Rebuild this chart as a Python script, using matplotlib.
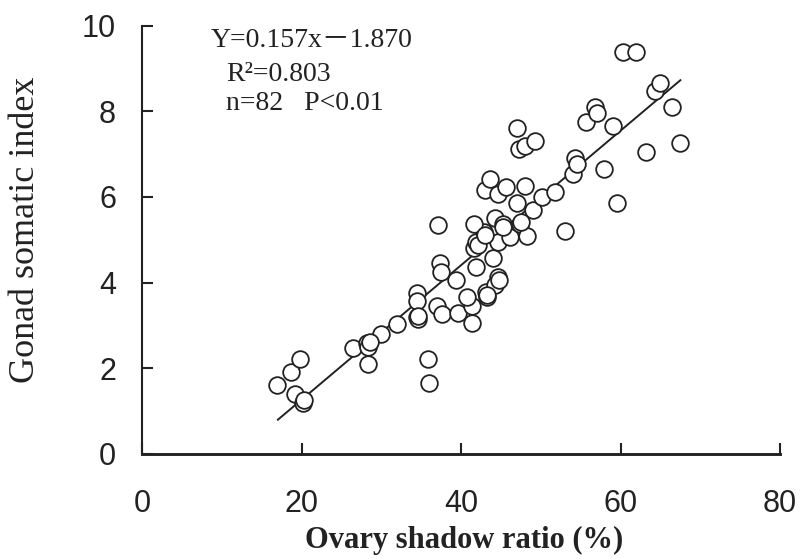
import matplotlib.pyplot as plt
import numpy as np

# Ovary shadow ratio (%) vs gonad somatic index
ratio = [16.9, 18.7, 19.8, 19.1, 20.1, 26.4, 28.2, 28.3, 28.3, 29.9,
         32.0, 34.5, 34.5, 34.5, 34.6, 35.8, 36.0, 37.0, 37.6, 39.6,
         41.4, 41.4, 43.2, 43.1, 40.7, 39.3, 37.3, 37.5, 37.1, 41.9,
         44.0, 44.6, 44.2, 41.6, 41.9, 42.8, 41.6, 44.2, 45.2, 44.6,
         46.1, 47.4, 48.2, 47.0, 43.0, 43.6, 44.6, 45.6, 48.0, 49.0,
         50.2, 51.8, 53.0, 54.0, 54.3, 54.5, 47.0, 47.2, 48.0, 49.2,
         55.6, 56.8, 57.1, 59.0, 57.9, 59.6, 60.3, 61.9, 64.3, 64.9,
         66.4, 67.4, 63.2, 42.1, 43.0, 45.3, 34.6, 43.2, 47.5, 20.3,
         28.5, 44.8]
gsi = [1.61, 1.92, 2.21, 1.39, 1.20, 2.48, 2.58, 2.50, 2.10, 2.80,
       3.04, 3.75, 3.57, 3.20, 3.14, 2.21, 1.65, 3.45, 3.26, 3.28,
       3.05, 3.46, 3.67, 3.79, 3.67, 4.06, 4.45, 4.25, 5.34, 4.37,
       4.57, 4.14, 3.94, 4.80, 4.95, 5.19, 5.38, 5.50, 5.38, 4.95,
       5.07, 5.38, 5.09, 5.86, 6.16, 6.43, 6.08, 6.24, 6.25, 5.69,
       6.00, 6.12, 5.20, 6.53, 6.92, 6.78, 7.62, 7.12, 7.18, 7.30,
       7.75, 8.09, 7.97, 7.65, 6.66, 5.86, 9.39, 9.39, 8.48, 8.67,
       8.10, 7.25, 7.04, 4.88, 5.12, 5.30, 3.22, 3.72, 5.42, 1.25,
       2.62, 4.05]

slope, intercept = 0.157, -1.870
fit_x = np.array([17.0, 67.5])

fig = plt.figure(figsize=(8, 5.59), dpi=100)
ax = fig.add_axes([0.178, 0.188, 0.797, 0.766])

ax.plot(fit_x, slope * fit_x + intercept, color='#222222', lw=1.4, zorder=1)
ax.plot(ratio, gsi, 'o', ms=12, mfc='white', mec='#222222', mew=1.3, zorder=2)

ax.set_xlim(0, 80)
ax.set_ylim(0, 10)
ax.set_xticks([0, 20, 40, 60, 80])
ax.set_yticks([0, 2, 4, 6, 8, 10])

for s in ['top', 'right']:
    ax.spines[s].set_visible(False)
ax.spines['bottom'].set_linewidth(2.1)
ax.spines['left'].set_linewidth(1.5)
ax.spines['bottom'].set_color('#222222')
ax.spines['left'].set_color('#222222')

tick_font = ['Liberation Sans', 'DejaVu Sans']
ax.tick_params(axis='x', direction='in', length=8, width=1.5, pad=25,
               labelsize=22, color='#222222')
ax.tick_params(axis='y', direction='in', length=8, width=1.5, pad=19,
               labelsize=22, color='#222222')
for lab in ax.get_xticklabels() + ax.get_yticklabels():
    lab.set_family(tick_font)
    lab.set_color('#222222')

# axis titles
fig.text(464 / 800, 1 - 548 / 559, 'Ovary shadow ratio (%)',
         family='Liberation Serif', fontweight='bold', fontsize=22,
         color='#222222', ha='center', va='baseline')
fig.text(26 / 800, 1 - 230 / 559, 'Gonad somatic index',
         family='Liberation Serif', fontsize=26, color='#222222',
         rotation=90, ha='center', va='center')

txt_font = ['Liberation Serif', 'Noto Sans CJK JP']
fig.text(211 / 800, 1 - 47 / 559, 'Y=0.157x\uff0d1.870', family=txt_font,
         fontsize=20, color='#222222', va='baseline')
fig.text(226 / 800, 1 - 81 / 559, 'R\u00b2=0.803', family=txt_font,
         fontsize=20, color='#222222', va='baseline')
fig.text(226 / 800, 1 - 110 / 559, 'n=82   P<0.01', family=txt_font,
         fontsize=20, color='#222222', va='baseline')

fig.savefig('out.png', dpi=100)
